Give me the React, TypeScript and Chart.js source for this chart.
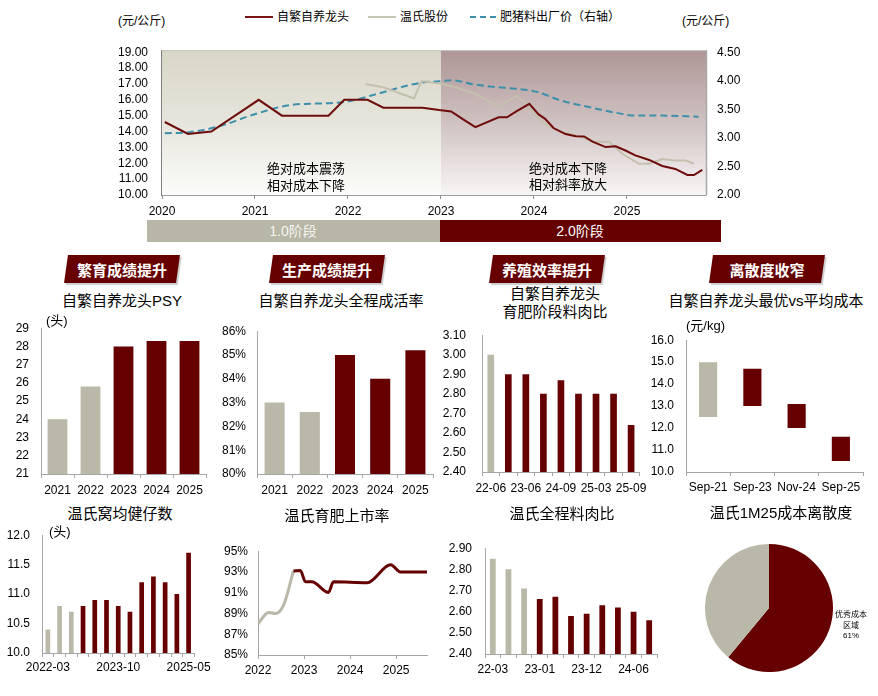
import React, { useEffect, useRef } from 'react';
import { Chart, registerables } from 'chart.js';

Chart.register(...registerables);

const FONT = "'Liberation Sans', Arial, 'Noto Sans CJK SC', sans-serif";
const RED = '#660000';
const GRAY = '#bab8a8';
const AXIS = '#a6a6a6';
const BLUE = '#3d8fab';

// ---------- Top chart: cost curves (元/公斤) & feed price (right axis) ----------
const leaderDates = [2020.03, 2020.28, 2020.53, 2021.04, 2021.29, 2021.79, 2021.96, 2022.21, 2022.38, 2022.8, 2022.98, 2023.11, 2023.23, 2023.37, 2023.62, 2023.71, 2023.81, 2023.95, 2024.05, 2024.12, 2024.21, 2024.34, 2024.45, 2024.54, 2024.63, 2024.77, 2024.88, 2024.99, 2025.09, 2025.24, 2025.38, 2025.52, 2025.65, 2025.72, 2025.81];
const leaderCost = [14.6, 13.85, 14.0, 16.0, 15.0, 15.0, 16.0, 16.0, 15.5, 15.5, 15.35, 15.27, 14.8, 14.28, 14.9, 14.9, 15.27, 15.75, 15.08, 14.8, 14.22, 13.84, 13.7, 13.69, 13.36, 13.02, 13.07, 12.79, 12.5, 12.21, 11.83, 11.64, 11.26, 11.26, 11.58];
const wensDates = [2022.19, 2022.39, 2022.71, 2022.79, 2023.01, 2023.16, 2023.37, 2023.62, 2023.8, 2023.91, 2024.05, 2024.16, 2024.27, 2024.39, 2024.52, 2024.63, 2024.81, 2024.95, 2025.13, 2025.24, 2025.38, 2025.51, 2025.63, 2025.72];
const wensCost = [17.0, 16.77, 16.08, 17.18, 17.0, 16.77, 16.38, 15.56, 16.23, 15.85, 14.8, 14.32, 14.03, 13.84, 13.65, 13.36, 13.36, 12.6, 11.97, 11.97, 12.27, 12.18, 12.18, 11.97];
const feedDates = [2020.03, 2020.29, 2020.61, 2020.97, 2021.4, 2021.83, 2022.04, 2022.29, 2022.8, 2022.98, 2023.12, 2023.34, 2023.59, 2023.8, 2024.02, 2024.3, 2024.59, 2024.88, 2025.09, 2025.38, 2025.77];
const feedPrice = [3.08, 3.1, 3.2, 3.4, 3.58, 3.61, 3.65, 3.76, 3.97, 3.99, 4.01, 3.94, 3.89, 3.86, 3.81, 3.65, 3.54, 3.44, 3.39, 3.39, 3.37];
const STAGE_SPLIT = 2023;
const topLegend = ['自繁自养龙头', '温氏股份', '肥猪料出厂价（右轴）'];

// ---------- Middle row ----------
const psyYears = ['2021', '2022', '2023', '2024', '2025'];
const psyValues = [24.0, 25.8, 28.0, 28.3, 28.3];
const survivalYears = ['2021', '2022', '2023', '2024', '2025'];
const survivalRate = [83.0, 82.6, 85.0, 84.0, 85.2];
const fcrPeriods = ['22-06', '22-12', '23-06', '23-12', '24-09', '24-12', '25-03', '25-06', '25-09'];
const fcrValues = [3.0, 2.9, 2.9, 2.8, 2.87, 2.8, 2.8, 2.8, 2.64];
const costPeriods = ['Sep-21', 'Sep-23', 'Nov-24', 'Sep-25'];
const costBest = [12.5, 13.0, 12.0, 10.5];
const costAvg = [15.0, 14.7, 13.1, 11.6];

// ---------- Bottom row ----------
const litterPeriods = ['2022-03', '2022-06', '2022-09', '2022-12', '2023-03', '2023-06', '2023-10', '2023-12', '2024-03', '2024-06', '2024-09', '2024-12', '2025-05'];
const litterValues = [10.4, 10.8, 10.7, 10.8, 10.9, 10.9, 10.8, 10.7, 11.2, 11.3, 11.2, 11.0, 11.7];
const marketDates = [2022.0, 2022.23, 2022.38, 2022.56, 2022.77, 2022.92, 2023.03, 2023.17, 2023.53, 2023.64, 2024.37, 2024.88, 2025.09, 2025.67];
const marketRate = [88.0, 89.1, 89.0, 89.85, 93.1, 93.15, 92.06, 92.06, 91.03, 92.06, 91.97, 93.7, 93.0, 93.0];
const wensFcrPeriods = ['22-03', '22-06', '22-09', '23-01', '23-04', '23-08', '23-12', '24-02', '24-04', '24-06', '24-08'];
const wensFcrValues = [2.85, 2.8, 2.71, 2.66, 2.67, 2.58, 2.59, 2.63, 2.62, 2.6, 2.56];
const dispersionLabels = ['优秀成本区域', '其他'];
const dispersionShare = [61, 39];

// ---------- helpers ----------
type Frame = { l: number; t: number; r: number; b: number; lw: number; rw: number; pt: number; bh: number };
const boxOf = (f: Frame) => ({ left: f.l - f.lw, top: f.t - f.pt, width: f.r - f.l + f.lw + f.rw, height: f.b - f.t + f.pt + f.bh });
const colorsFor = (n: number, oldCount: number) => Array.from({ length: n }, (_, i) => (i < oldCount ? GRAY : RED));
const tickFont = { family: FONT, size: 12 };

function ChartCanvas({ box, config }: { box: any; config: () => any }) {
  const ref = useRef<HTMLCanvasElement>(null);
  useEffect(() => {
    const chart = new Chart(ref.current as HTMLCanvasElement, config());
    return () => chart.destroy();
  }, []);
  return (
    <canvas
      ref={ref}
      width={box.width}
      height={box.height}
      style={{ position: 'absolute', left: box.left, top: box.top, width: box.width, height: box.height }}
    />
  );
}

function T({ x, y, s = 12, c = '#000', b = false, align = 'center', children }: any) {
  return (
    <div
      style={{
        position: 'absolute',
        left: x,
        top: y,
        transform: align === 'center' ? 'translate(-50%,-50%)' : 'translate(0,-50%)',
        fontSize: s,
        color: c,
        fontWeight: b ? 'bold' : 'normal',
        fontFamily: FONT,
        whiteSpace: 'nowrap',
        lineHeight: 1,
      }}
    >
      {children}
    </div>
  );
}

function Banner({ cx, text }: { cx: number; text: string }) {
  return (
    <>
      <div
        style={{
          position: 'absolute',
          left: cx - 56,
          top: 255,
          width: 112,
          height: 28,
          background: RED,
          transform: 'skewX(-8deg)',
          boxShadow: '2px 2px 1px rgba(0,0,0,0.2)',
        }}
      />
      <T x={cx} y={270} s={15} c="#fff" b>
        {text}
      </T>
    </>
  );
}

function baseOptions(f: Frame, rightPad: number) {
  return {
    animation: false,
    responsive: false,
    maintainAspectRatio: false,
    layout: { padding: { top: f.pt, right: rightPad, left: 0, bottom: 0 } },
    plugins: { legend: { display: false }, tooltip: { enabled: false }, title: { display: false } },
  };
}

function barConfig(
  f: Frame,
  labels: string[],
  data: any[],
  colors: string[],
  y: { min: number; max: number; step: number; fmt: (v: number) => string; pad: number },
  xPad: number,
  barPct: number,
  shown?: number[]
) {
  return {
    type: 'bar',
    data: {
      labels,
      datasets: [{ data, backgroundColor: colors, borderWidth: 0, barPercentage: barPct, categoryPercentage: 1 }],
    },
    options: {
      ...baseOptions(f, f.rw),
      scales: {
        x: {
          offset: true,
          grid: { display: true, drawOnChartArea: false, drawTicks: true, tickLength: 4, color: AXIS, offset: true },
          border: { display: true, color: AXIS, width: 1 },
          ticks: {
            autoSkip: false,
            maxRotation: 0,
            minRotation: 0,
            padding: xPad,
            color: '#000',
            font: tickFont,
            callback: (_v: any, i: number) => (!shown || shown.includes(i) ? labels[i] : ''),
          },
          afterFit: (s: any) => {
            s.height = f.bh;
          },
        },
        y: {
          min: y.min,
          max: y.max,
          grid: { display: false, drawTicks: false },
          border: { display: true, color: AXIS, width: 1 },
          ticks: {
            autoSkip: false,
            stepSize: y.step,
            padding: y.pad,
            color: '#000',
            font: tickFont,
            callback: (v: number) => y.fmt(v),
          },
          afterFit: (s: any) => {
            s.width = f.lw;
          },
        },
      },
    },
  };
}

// ---------- frames (plot areas in page pixels) ----------
const fTop: Frame = { l: 162, t: 37, r: 706, b: 195, lw: 50, rw: 50, pt: 6, bh: 30 };
const fPsy: Frame = { l: 41, t: 317, r: 206, b: 474, lw: 38, rw: 10, pt: 8, bh: 24 };
const fSurv: Frame = { l: 257, t: 321, r: 433, b: 474, lw: 45, rw: 10, pt: 8, bh: 24 };
const fFcr: Frame = { l: 482, t: 320, r: 642, b: 472, lw: 45, rw: 10, pt: 8, bh: 24 };
const fCost: Frame = { l: 686, t: 329, r: 863, b: 472, lw: 45, rw: 10, pt: 8, bh: 24 };
const fLitter: Frame = { l: 42, t: 524, r: 204, b: 653, lw: 40, rw: 10, pt: 8, bh: 24 };
const fMarket: Frame = { l: 258, t: 542, r: 427, b: 655, lw: 45, rw: 12, pt: 8, bh: 24 };
const fWensFcr: Frame = { l: 485, t: 536, r: 657, b: 654, lw: 45, rw: 10, pt: 8, bh: 24 };

const stagePlugin = {
  id: 'stageBg',
  beforeDraw(chart: any) {
    const { ctx, chartArea: a, scales } = chart;
    const sx = Math.round(scales.x.getPixelForValue(STAGE_SPLIT));
    const top = a.top - 2;
    ctx.save();
    let g = ctx.createLinearGradient(0, top, 0, a.bottom);
    g.addColorStop(0, '#d8d6c6');
    g.addColorStop(0.5, '#e6e5dc');
    g.addColorStop(1, '#fcfcfa');
    ctx.fillStyle = g;
    ctx.fillRect(a.left, top, sx - a.left, a.bottom - top);
    g = ctx.createLinearGradient(0, top, 0, a.bottom);
    g.addColorStop(0, '#ae9595');
    g.addColorStop(0.5, '#d0c2c2');
    g.addColorStop(1, '#f8f5f5');
    ctx.fillStyle = g;
    ctx.fillRect(sx, top, a.right - sx, a.bottom - top);
    ctx.restore();
  },
  afterDraw(chart: any) {
    const { ctx, chartArea: a } = chart;
    const top = a.top - 2;
    ctx.save();
    ctx.lineWidth = 1;
    ctx.strokeStyle = '#c4c4c4';
    ctx.beginPath();
    ctx.moveTo(a.left, top + 0.5);
    ctx.lineTo(a.right + 0.5, top + 0.5);
    ctx.stroke();
    ctx.strokeStyle = '#a8a8a8';
    ctx.lineWidth = 1.5;
    ctx.beginPath();
    ctx.moveTo(a.right + 0.5, top);
    ctx.lineTo(a.right + 0.5, a.bottom);
    ctx.stroke();
    ctx.lineWidth = 1;
    ctx.strokeStyle = '#9a9a9a';
    ctx.beginPath();
    ctx.moveTo(a.left, Math.round(a.bottom) + 0.5);
    ctx.lineTo(a.right + 0.5, Math.round(a.bottom) + 0.5);
    ctx.stroke();
    ctx.strokeStyle = '#7f7f7f';
    ctx.beginPath();
    ctx.moveTo(Math.round(a.left) - 0.5, top);
    ctx.lineTo(Math.round(a.left) - 0.5, a.bottom + 1);
    ctx.stroke();
    ctx.restore();
  },
};

const topConfig = () => ({
  type: 'line',
  data: {
    datasets: [
      {
        label: topLegend[0],
        data: leaderDates.map((x, i) => ({ x, y: leaderCost[i] })),
        borderColor: '#6e0b0b',
        borderWidth: 2,
        pointRadius: 0,
        tension: 0,
        yAxisID: 'y',
      },
      {
        label: topLegend[1],
        data: wensDates.map((x, i) => ({ x, y: wensCost[i] })),
        borderColor: '#c3c0ae',
        borderWidth: 2,
        pointRadius: 0,
        tension: 0,
        yAxisID: 'y',
      },
      {
        label: topLegend[2],
        data: feedDates.map((x, i) => ({ x, y: feedPrice[i] })),
        borderColor: BLUE,
        borderWidth: 2,
        borderDash: [7, 4],
        pointRadius: 0,
        cubicInterpolationMode: 'monotone',
        yAxisID: 'y1',
      },
    ],
  },
  options: {
    ...baseOptions(fTop, 0),
    scales: {
      x: {
        type: 'linear',
        min: 2020,
        max: 2025.85,
        grid: { display: true, drawOnChartArea: false, drawTicks: true, tickLength: 4, color: '#8c8c8c' },
        border: { display: false },
        ticks: {
          stepSize: 1,
          includeBounds: false,
          autoSkip: false,
          padding: 5,
          color: '#000',
          font: tickFont,
          maxRotation: 0,
          callback: (v: number) => String(Math.round(v)),
        },
        afterBuildTicks: (s: any) => {
          s.ticks = s.ticks.filter((t: any) => Math.abs(t.value - Math.round(t.value)) < 1e-6);
        },
        afterFit: (s: any) => {
          s.height = fTop.bh;
        },
      },
      y: {
        position: 'left',
        min: 10,
        max: 19,
        grid: { display: false, drawTicks: false },
        border: { display: false },
        ticks: { autoSkip: false, stepSize: 1, padding: 14, color: '#000', font: tickFont, callback: (v: number) => v.toFixed(2) },
        afterFit: (s: any) => {
          s.width = fTop.lw;
        },
      },
      y1: {
        position: 'right',
        min: 2,
        max: 4.5,
        grid: { display: false, drawTicks: false },
        border: { display: false },
        ticks: { autoSkip: false, stepSize: 0.5, padding: 11, color: '#000', font: tickFont, callback: (v: number) => v.toFixed(2) },
        afterFit: (s: any) => {
          s.width = fTop.rw;
        },
      },
    },
  },
  plugins: [stagePlugin],
});

const psyConfig = () =>
  barConfig(fPsy, psyYears, psyValues, colorsFor(5, 2), { min: 21, max: 29, step: 1, fmt: (v) => String(Math.round(v)), pad: 12 }, 5, 0.6);

const survConfig = () =>
  barConfig(
    fSurv,
    survivalYears,
    survivalRate,
    colorsFor(5, 2),
    { min: 80, max: 86, step: 1, fmt: (v) => Math.round(v) + '%', pad: 11 },
    5,
    0.57
  );

const fcrConfig = () =>
  barConfig(
    fFcr,
    fcrPeriods,
    fcrValues,
    colorsFor(9, 1),
    { min: 2.4, max: 3.1, step: 0.1, fmt: (v) => v.toFixed(2), pad: 16 },
    5,
    0.38,
    [0, 2, 4, 6, 8]
  );

const costConfig = () =>
  barConfig(
    fCost,
    costPeriods,
    costPeriods.map((_, i) => [costBest[i], costAvg[i]]),
    colorsFor(4, 1),
    { min: 10, max: 16, step: 1, fmt: (v) => v.toFixed(1), pad: 12 },
    4,
    0.41
  );

const litterConfig = () =>
  barConfig(
    fLitter,
    litterPeriods,
    litterValues,
    colorsFor(13, 3),
    { min: 10, max: 12, step: 0.5, fmt: (v) => v.toFixed(1), pad: 12 },
    3,
    0.4,
    [0, 6, 12]
  );

const wensFcrConfig = () =>
  barConfig(
    fWensFcr,
    wensFcrPeriods,
    wensFcrValues,
    colorsFor(11, 3),
    { min: 2.4, max: 2.9, step: 0.1, fmt: (v) => v.toFixed(2), pad: 13 },
    4,
    0.37,
    [0, 3, 6, 9]
  );

const MARKET_SPLIT = 4; // index where the line turns from grey to red
const marketConfig = () => ({
  type: 'line',
  data: {
    datasets: [
      {
        data: marketDates.slice(MARKET_SPLIT).map((x, i) => ({ x, y: marketRate[i + MARKET_SPLIT] })),
        borderColor: RED,
        borderWidth: 3,
        pointRadius: 0,
        cubicInterpolationMode: 'monotone',
      },
      {
        data: marketDates.slice(0, MARKET_SPLIT + 1).map((x, i) => ({ x, y: marketRate[i] })),
        borderColor: GRAY,
        borderWidth: 3,
        pointRadius: 0,
        cubicInterpolationMode: 'monotone',
      },
    ],
  },
  options: {
    ...baseOptions(fMarket, fMarket.rw),
    scales: {
      x: {
        type: 'linear',
        min: 2022,
        max: 2025.67,
        grid: { display: true, drawOnChartArea: false, drawTicks: true, tickLength: 4, color: AXIS },
        border: { display: true, color: AXIS },
        ticks: {
          stepSize: 1,
          includeBounds: false,
          autoSkip: false,
          padding: 4,
          color: '#000',
          font: tickFont,
          maxRotation: 0,
          callback: (v: number) => String(Math.round(v)),
        },
        afterBuildTicks: (s: any) => {
          s.ticks = s.ticks.filter((t: any) => Math.abs(t.value - Math.round(t.value)) < 1e-6);
        },
        afterFit: (s: any) => {
          s.height = fMarket.bh;
        },
      },
      y: {
        min: 85,
        max: 95,
        grid: { display: false, drawTicks: false },
        border: { display: true, color: AXIS },
        ticks: { autoSkip: false, stepSize: 2, padding: 10, color: '#000', font: tickFont, callback: (v: number) => Math.round(v) + '%' },
        afterFit: (s: any) => {
          s.width = fMarket.lw;
        },
      },
    },
  },
});

const pieBox = { left: 705, top: 544, width: 128, height: 128 };
const pieConfig = () => ({
  type: 'pie',
  data: {
    labels: dispersionLabels,
    datasets: [{ data: dispersionShare, backgroundColor: [RED, GRAY], borderWidth: 0 }],
  },
  options: {
    animation: false,
    responsive: false,
    maintainAspectRatio: false,
    layout: { padding: 0 },
    plugins: { legend: { display: false }, tooltip: { enabled: false } },
  },
});

export default function App() {
  return (
    <div
      style={{
        position: 'absolute',
        left: 0,
        top: 0,
        width: 878,
        height: 696,
        background: '#fff',
        overflow: 'hidden',
        fontFamily: FONT,
      }}
    >
      {/* ---- Top chart ---- */}
      <ChartCanvas box={boxOf(fTop)} config={topConfig} />
      <T x={118} y={21} s={12} align="left">(元/公斤)</T>
      <T x={682} y={21} s={12} align="left">(元/公斤)</T>
      {/* legend */}
      <div style={{ position: 'absolute', left: 245, top: 16, width: 28, height: 2, background: '#7a1515' }} />
      <T x={277} y={17} s={12} align="left">{topLegend[0]}</T>
      <div style={{ position: 'absolute', left: 368, top: 16, width: 28, height: 2, background: '#c8c6b4' }} />
      <T x={400} y={17} s={12} align="left">{topLegend[1]}</T>
      <div style={{ position: 'absolute', left: 470, top: 16, width: 6, height: 2, background: BLUE }} />
      <div style={{ position: 'absolute', left: 480, top: 16, width: 6, height: 2, background: BLUE }} />
      <div style={{ position: 'absolute', left: 490, top: 16, width: 6, height: 2, background: BLUE }} />
      <T x={500} y={17} s={12} align="left">{topLegend[2]}</T>
      {/* annotations */}
      <T x={306} y={168} s={13}>绝对成本震荡</T>
      <T x={306} y={185} s={13}>相对成本下降</T>
      <T x={568} y={168} s={13}>绝对成本下降</T>
      <T x={568} y={184} s={13}>相对斜率放大</T>
      {/* stage bars */}
      <div style={{ position: 'absolute', left: 147, top: 220, width: 293, height: 22, background: '#b8b6a6' }} />
      <div style={{ position: 'absolute', left: 440, top: 220, width: 281, height: 22, background: RED }} />
      <T x={293} y={231} s={14} c="#f4f4f0">1.0阶段</T>
      <T x={580} y={231} s={14} c="#ffffff">2.0阶段</T>

      {/* ---- Middle row ---- */}
      <Banner cx={122} text="繁育成绩提升" />
      <Banner cx={327} text="生产成绩提升" />
      <Banner cx={547} text="养殖效率提升" />
      <Banner cx={767} text="离散度收窄" />
      <T x={122} y={300} s={15}>自繁自养龙头PSY</T>
      <T x={341} y={300} s={15}>自繁自养龙头全程成活率</T>
      <T x={555} y={293} s={15}>自繁自养龙头</T>
      <T x={555} y={311} s={15}>育肥阶段料肉比</T>
      <T x={766} y={300} s={15}>自繁自养龙头最优vs平均成本</T>
      <ChartCanvas box={boxOf(fPsy)} config={psyConfig} />
      <ChartCanvas box={boxOf(fSurv)} config={survConfig} />
      <ChartCanvas box={boxOf(fFcr)} config={fcrConfig} />
      <ChartCanvas box={boxOf(fCost)} config={costConfig} />
      <T x={46} y={320} s={13} align="left">(头)</T>
      <T x={686} y={325} s={13} align="left">(元/kg)</T>

      {/* ---- Bottom row ---- */}
      <T x={120} y={513} s={15}>温氏窝均健仔数</T>
      <T x={337} y={515} s={15}>温氏育肥上市率</T>
      <T x={562} y={513} s={15}>温氏全程料肉比</T>
      <T x={781} y={512} s={15}>温氏1M25成本离散度</T>
      <ChartCanvas box={boxOf(fLitter)} config={litterConfig} />
      <ChartCanvas box={boxOf(fMarket)} config={marketConfig} />
      <ChartCanvas box={boxOf(fWensFcr)} config={wensFcrConfig} />
      <ChartCanvas box={pieBox} config={pieConfig} />
      <T x={49} y={531} s={13} align="left">(头)</T>
      <T x={851} y={615} s={8}>优秀成本</T>
      <T x={851} y={625.5} s={8}>区域</T>
      <T x={851} y={636} s={8}>61%</T>
    </div>
  );
}
